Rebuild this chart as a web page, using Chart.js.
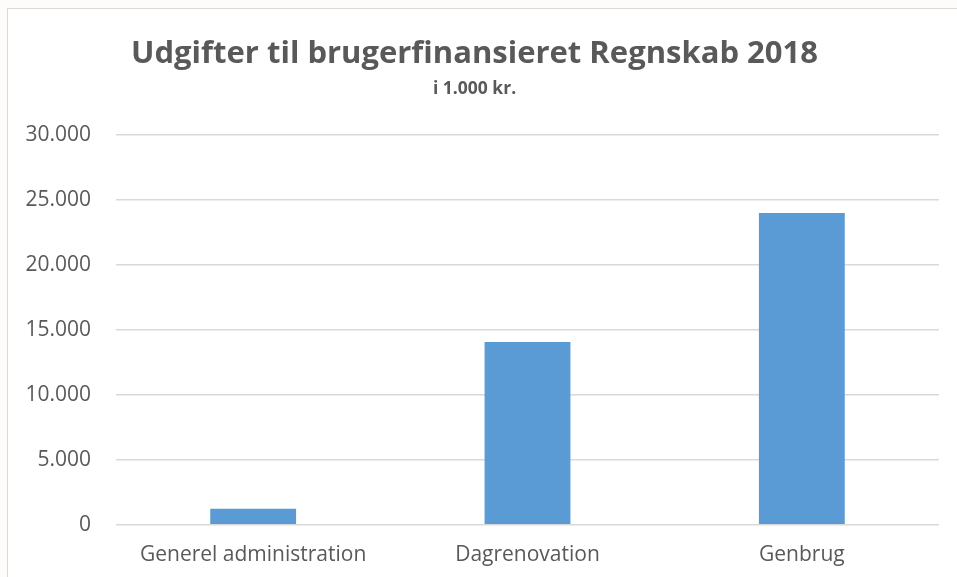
<!DOCTYPE html>
<html>
<head>
<meta charset="utf-8">
<script src="https://cdn.jsdelivr.net/npm/chart.js@4/dist/chart.umd.min.js"></script>
<style>
  html, body { margin: 0; padding: 0; width: 957px; height: 577px; overflow: hidden; background: #fdfcfa; }
  #frame { position: absolute; left: 7px; top: 8px; width: 990px; height: 620px; background: #ffffff; border: 1.5px solid #d9d9d9; box-sizing: border-box; }
  #wrap { position: absolute; left: 1.5px; top: 1.5px; width: 962px; height: 575px; }
</style>
</head>
<body>
<div id="frame"><div id="wrap"><canvas id="c" width="962" height="575"></canvas></div></div>
<script>
const titleText = 'Udgifter til brugerfinansieret Regnskab 2018';
const subtitleText = 'i 1.000 kr.';
const categories = ['Generel administration', 'Dagrenovation', 'Genbrug'];
const expenses = [1230, 14080, 24000];
const yTickValues = [0, 5000, 10000, 15000, 20000, 25000, 30000];

function fmt(v) {
  return String(v).replace(/\B(?=(\d{3})+(?!\d))/g, '.');
}

const textColor = '#595959';
const fontFamily = '"Open Sans", Lato, sans-serif';

new Chart(document.getElementById('c'), {
  type: 'bar',
  data: {
    labels: categories,
    datasets: [{
      label: 'Udgifter',
      data: expenses,
      backgroundColor: '#5b9bd5',
      borderWidth: 0,
      barPercentage: 1,
      categoryPercentage: 0.313
    }]
  },
  options: {
    responsive: false,
    animation: false,
    devicePixelRatio: 1,
    layout: { padding: { left: 0, right: 33, top: 25, bottom: 0 } },
    plugins: {
      legend: { display: false },
      tooltip: { enabled: false },
      title: {
        display: true,
        text: titleText,
        color: textColor,
        font: { family: fontFamily, size: 31, weight: 'bold' },
        padding: { top: 0, bottom: 5 }
      },
      subtitle: {
        display: true,
        text: subtitleText,
        color: textColor,
        font: { family: fontFamily, size: 17.5, weight: 'bold' },
        padding: { top: 0, bottom: 36 }
      }
    },
    scales: {
      x: {
        grid: { display: false, drawTicks: false },
        border: { display: false },
        ticks: {
          color: textColor,
          font: { family: fontFamily, size: 21 },
          padding: 18,
          maxRotation: 0
        }
      },
      y: {
        min: 0,
        max: 30000,
        afterBuildTicks: (axis) => { axis.ticks = yTickValues.map(v => ({ value: v })); },
        afterFit: (axis) => { axis.width = 106; },
        grid: { color: '#d9d9d9', lineWidth: 1.5, drawTicks: false },
        border: { display: false },
        ticks: {
          color: textColor,
          font: { family: fontFamily, size: 21 },
          padding: 25,
          callback: (v) => fmt(v)
        }
      }
    }
  }
});
</script>
</body>
</html>
